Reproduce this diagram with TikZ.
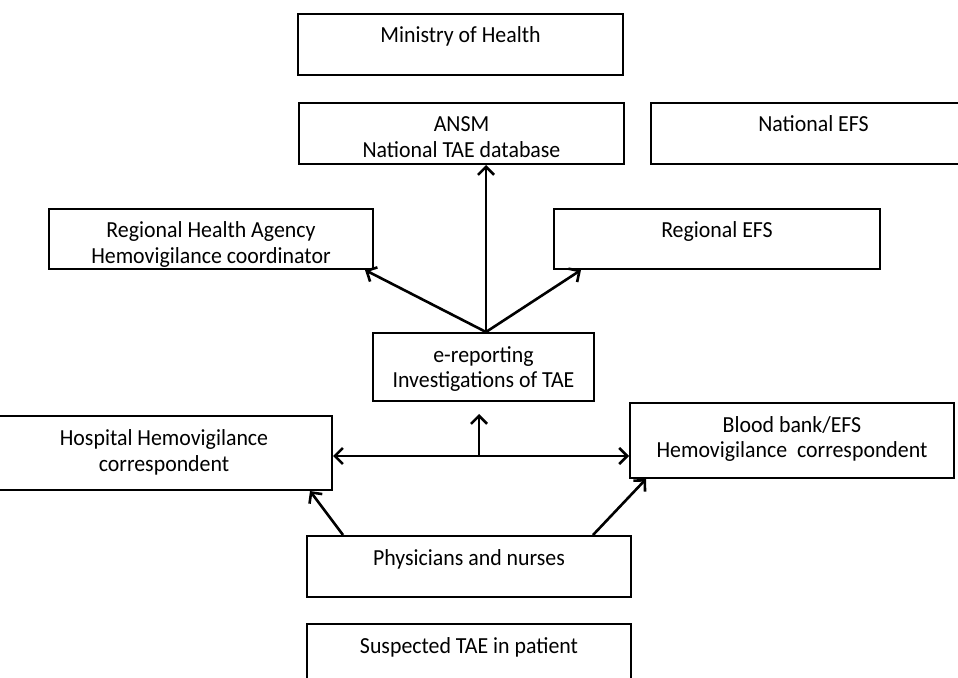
\documentclass[tikz,border=0pt]{standalone}
\usepackage{fontspec}
\setmainfont{Carlito}[FakeStretch=0.95]
\usepackage{tikz}
\usetikzlibrary{positioning,arrows.meta}

\begin{document}
\begin{tikzpicture}[
  x=0.5pt, y=-0.5pt,
  box/.style={
    rectangle, draw, line width=1pt,
    align=center, font=\fontsize{11.5}{13}\selectfont,
    inner sep=0pt, text height=14.5pt, text depth=16pt,
    minimum width=162.5pt, minimum height=30.5pt
  },
  twolines/.style={text height=27.5pt},
  arrow/.style={-{Straight Barb[length=4pt,width=8pt]}, line width=1.3pt}
]

\useasboundingbox (0,0) rectangle (958,678);

% =====================================================
% NATIONAL LEVEL
% =====================================================

\node[box] (ministry) at (460.5,44.5) {Ministry of Health};

\node[box, twolines, text depth=3pt] (ansm) at (461.5,133.5)
{ANSM\\
National TAE database};

\node[box, right=12.5pt of ansm] (natefs) {National EFS};

% =====================================================
% REGIONAL LEVEL
% =====================================================

\node[box, twolines, minimum width=162pt, minimum height=30pt, text depth=2.5pt] (rha) at (211,239)
{Regional Health Agency\\
Hemovigilance coordinator};

\node[box, minimum width=163pt, minimum height=30pt, text depth=15.5pt] (refs) at (717,239) {Regional EFS};

\node[box, twolines, minimum width=110.5pt, minimum height=34pt, text depth=6.5pt] (ereport) at (483.5,367)
{e-reporting\\
Investigations of TAE};

\draw[arrow] ([xshift=1.25pt]ereport.north) -- ([xshift=1.25pt]ereport.north |- ansm.south);
\draw[arrow] ([xshift=1.25pt]ereport.north) -- ([xshift=-4.5pt]rha.south east);
\draw[arrow] ([xshift=1.25pt]ereport.north) -- ([xshift=14pt]refs.south west);

% =====================================================
% LOCAL LEVEL
% =====================================================

\node[box, twolines, minimum width=168pt, minimum height=37pt, text depth=9.5pt] (hosp) at (164,453)
{Hospital Hemovigilance\\
correspondent};

\node[box, twolines, minimum width=162pt, minimum height=37.5pt, text depth=10pt] (bbank) at (792,440.5)
{Blood bank/EFS\\
Hemovigilance~ correspondent};

\coordinate (hub) at (479,456);

\draw[arrow, {Straight Barb[length=4pt,width=8pt]}-{Straight Barb[length=4pt,width=8pt]}]
  (hub -| hosp.east) -- (hub -| bbank.west);
\draw[arrow, shorten >=6pt] (hub) -- (hub |- ereport.south);

\node[box, minimum width=162pt] (phys) at (469,566.5) {Physicians and nurses};

\draw[arrow] ([xshift=18.5pt]phys.north west) -- ([xshift=-11.5pt]hosp.south east);
\draw[arrow] ([xshift=-19.5pt]phys.north east) -- ([xshift=8.5pt]bbank.south west);

\node[box, minimum width=162pt, minimum height=37.5pt, text depth=23pt,
  below=12.5pt of phys] (suspect) {Suspected TAE in patient};

\end{tikzpicture}
\end{document}
